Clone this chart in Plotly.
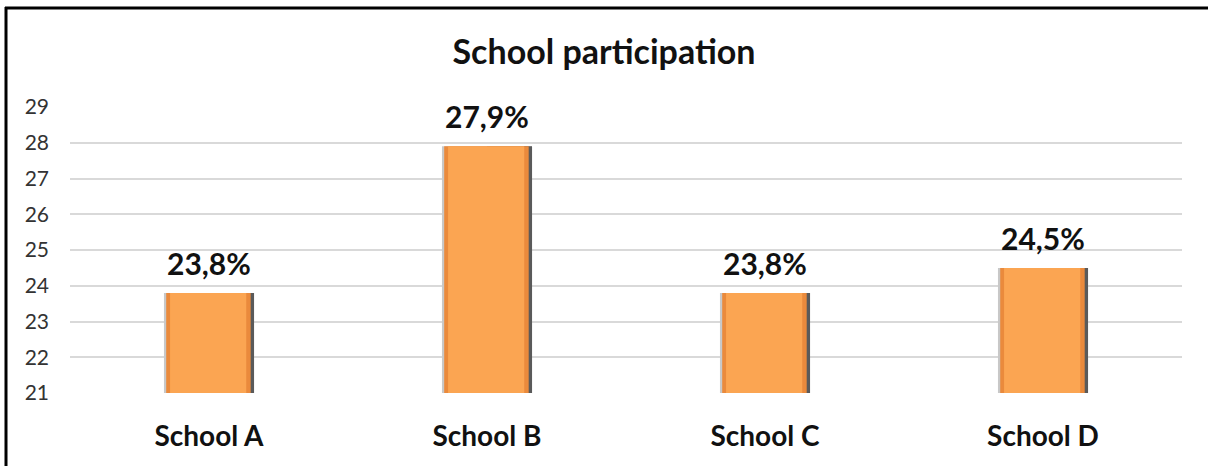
import plotly.graph_objects as go

schools = ["School A", "School B", "School C", "School D"]
participation = [23.8, 27.9, 23.8, 24.5]
labels = ["23,8%", "27,9%", "23,8%", "24,5%"]
y_ticks = [21, 22, 23, 24, 25, 26, 27, 28, 29]

FONT = "Lato"
W = 0.324

fig = go.Figure()
# bevel edges (light left, dark right), then face
fig.add_trace(go.Bar(x=schools, y=participation, width=W, offset=-W / 2,
                     marker=dict(color="#C8C8C8", line=dict(width=0)), hoverinfo="skip"))
fig.add_trace(go.Bar(x=schools, y=participation, width=W / 2, offset=0,
                     marker=dict(color="#5A5A5A", line=dict(width=0)), hoverinfo="skip"))
fig.add_trace(go.Bar(x=schools, y=participation, width=W - 0.02, offset=-W / 2 + 0.008,
                     marker=dict(color="#EA8A3C", line=dict(width=0)), hoverinfo="skip"))
fig.add_trace(go.Bar(x=schools, y=participation, width=W - 0.05, offset=-W / 2 + 0.022,
                     marker=dict(color="#FBA552", line=dict(width=0))))

for s, v, t in zip(schools, participation, labels):
    fig.add_annotation(x=s, y=v, text=t, showarrow=False, yshift=30,
                       font=dict(family=FONT, size=30, color="#111111", weight="bold"))

L, R, T, B = 70, 26, 107, 73
PW, PH = 1208 - L - R, 466 - T - B

fig.update_layout(
    width=1208, height=466,
    barmode="overlay",
    showlegend=False,
    paper_bgcolor="white", plot_bgcolor="white",
    margin=dict(l=L, r=R, t=T, b=B),
    title=dict(text="<b>School participation</b>", x=0.5, xanchor="center",
               y=1 - 52 / 466, yanchor="middle",
               font=dict(family=FONT, size=34, color="#111111")),
    xaxis=dict(showgrid=False, showline=False, ticks="",
               tickfont=dict(family=FONT, size=28, color="#111111", weight="bold"),
               ticklabelstandoff=24),
    yaxis=dict(range=[21, 29], tickvals=y_ticks, showgrid=True, gridcolor="#D9D9D9",
               gridwidth=2, zeroline=False, showline=False, ticks="",
               tickfont=dict(family=FONT, size=21, color="#333333"),
               ticklabelstandoff=20),
    shapes=[
        dict(type="line", xref="paper", yref="paper",
             x0=(6 - L) / PW, x1=(6 - L) / PW, y0=(466 - B - 7) / PH, y1=-(B + 5) / PH,
             line=dict(color="black", width=3)),
        dict(type="line", xref="paper", yref="paper",
             x0=(5 - L) / PW, x1=(1215 - L) / PW, y0=(466 - B - 8) / PH, y1=(466 - B - 8) / PH,
             line=dict(color="black", width=3)),
    ],
)

fig.write_html("out.html", config={"displayModeBar": False},
               post_script="document.body.style.margin='0px';")
